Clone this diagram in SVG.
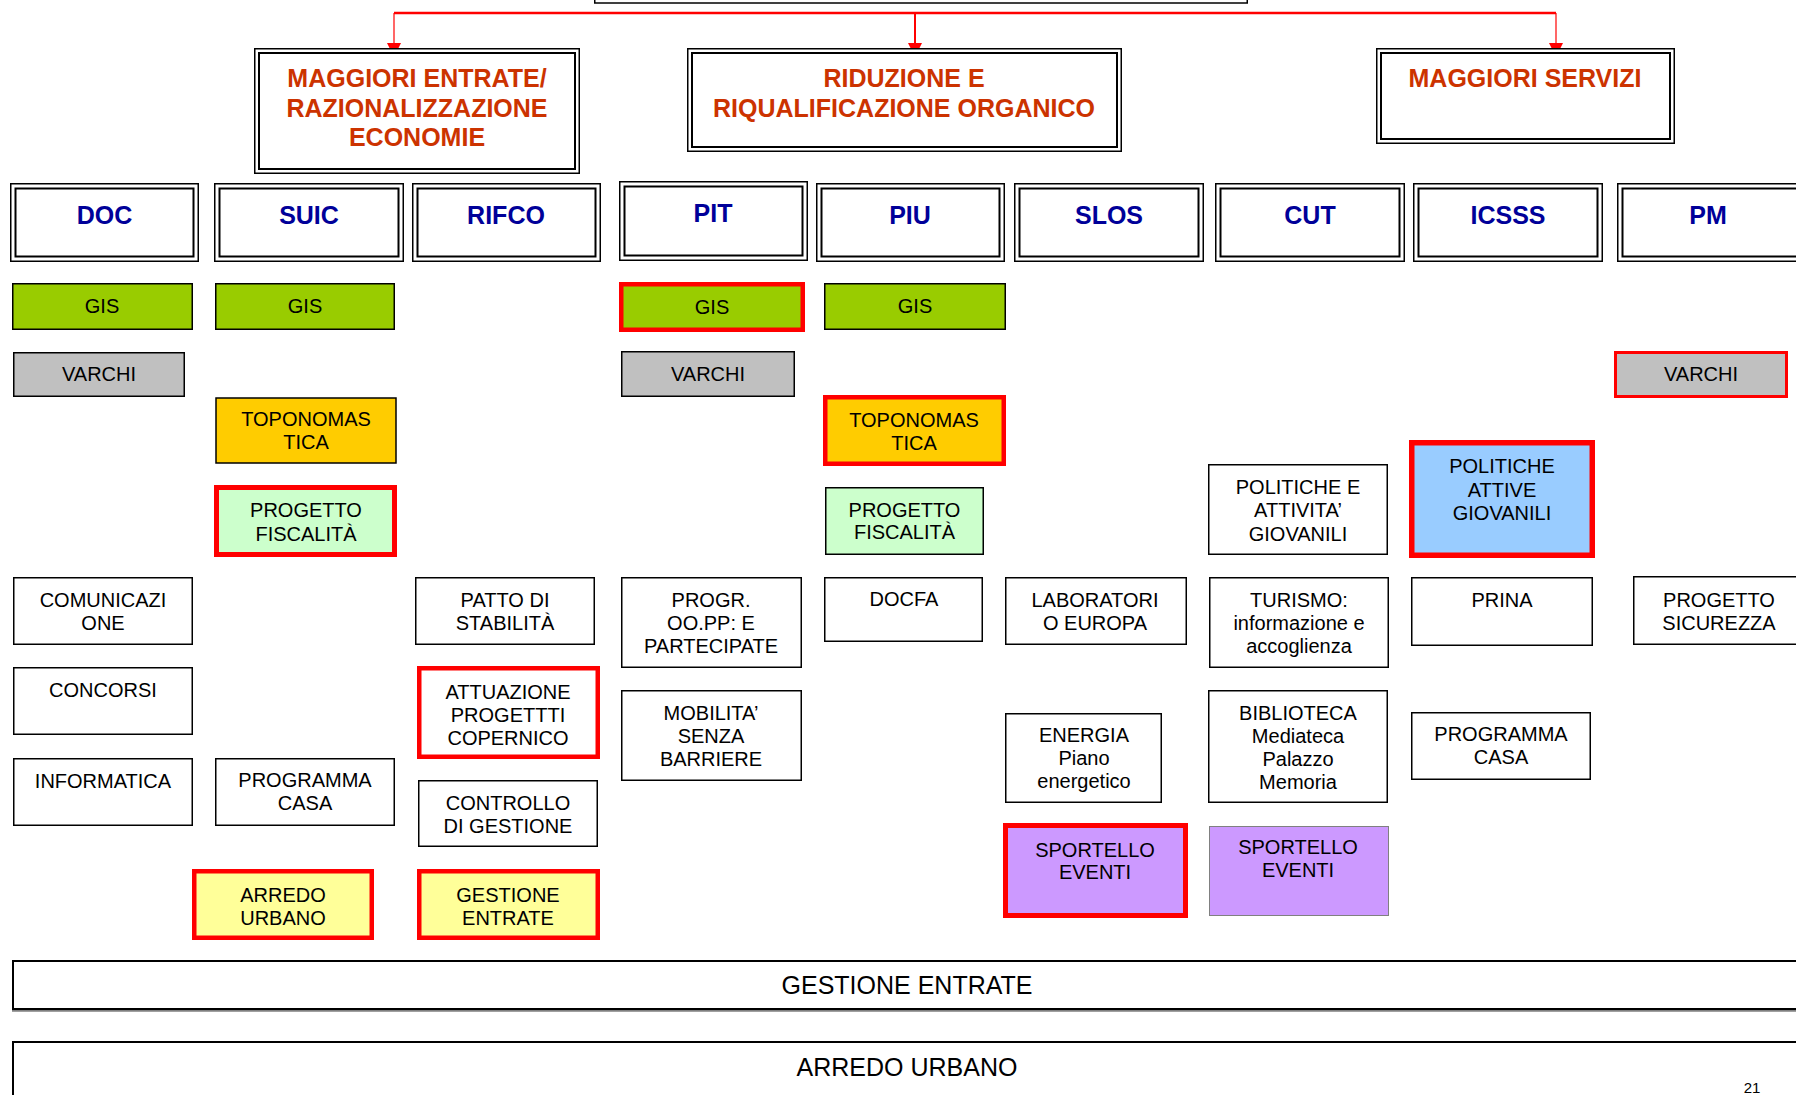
<svg xmlns="http://www.w3.org/2000/svg" width="1796" height="1095" viewBox="0 0 1796 1095">
<style>
text{font-family:"Liberation Sans",Arial,sans-serif;text-anchor:middle}
.t{font-size:20px;fill:#000}
.h1{font-size:25px;font-weight:bold;fill:#CC3300}
.h2{font-size:25px;font-weight:bold;fill:#000099}
.bar{font-size:25px;fill:#000}
.o{fill:#fff;stroke:#000;stroke-width:1.5}
.i{fill:none;stroke:#000;stroke-width:2}
.b{stroke:#000;stroke-width:1.5}
.r{stroke:#FF0000}
.w{fill:#fff}
.gis{fill:#99CC00}
.gr{fill:#C0C0C0}
.or{fill:#FFCC00}
.lg{fill:#CCFFCC}
.ye{fill:#FFFF99}
.bl{fill:#99CCFF}
.pu{fill:#CC99FF}
.conn{fill:none;stroke:#FF0000}
</style>
<defs>
<marker id="ah" markerUnits="userSpaceOnUse" markerWidth="14" markerHeight="14" refX="14" refY="7" orient="auto">
<path d="M0,0 L14,7 L0,14 z" fill="#FF0000"/>
</marker>
</defs>
<rect width="1796" height="1095" fill="#fff"/>

<g id="top">
<rect class="o" x="594.75" y="-60" width="652.5" height="63"/>
<rect class="i" x="599" y="-60" width="644" height="59"/>
</g>

<g id="connectors">
<path class="conn" stroke-width="2.5" d="M394 13 H1556"/>
<path class="conn" stroke-width="1.2" d="M394 13 V57" marker-end="url(#ah)"/>
<path class="conn" stroke-width="2" d="M915 13 V57" marker-end="url(#ah)"/>
<path class="conn" stroke-width="1.2" d="M1556 13 V57" marker-end="url(#ah)"/>
</g>

<g id="l1-entrate">
<rect class="o" x="254.75" y="48.75" width="324.5" height="124.5"/>
<rect class="i" x="259" y="53" width="316" height="116"/>
<text class="h1" x="417" y="87">MAGGIORI ENTRATE/</text>
<text class="h1" x="417" y="117">RAZIONALIZZAZIONE</text>
<text class="h1" x="417" y="146">ECONOMIE</text>
</g>
<g id="l1-riduzione">
<rect class="o" x="687.75" y="48.75" width="433.5" height="102.5"/>
<rect class="i" x="692" y="53" width="425" height="94"/>
<text class="h1" x="904" y="87">RIDUZIONE E</text>
<text class="h1" x="904" y="117">RIQUALIFICAZIONE ORGANICO</text>
</g>
<g id="l1-servizi">
<rect class="o" x="1376.75" y="48.75" width="297.5" height="94.5"/>
<rect class="i" x="1381" y="53" width="289" height="86"/>
<text class="h1" x="1525" y="87">MAGGIORI SERVIZI</text>
</g>

<g id="doc">
<rect class="o" x="10.75" y="183.75" width="187.5" height="77.5"/>
<rect class="i" x="15.5" y="188.5" width="178" height="68"/>
<text class="h2" x="104.5" y="224">DOC</text>
</g>
<g id="suic">
<rect class="o" x="214.75" y="183.75" width="188.5" height="77.5"/>
<rect class="i" x="219.5" y="188.5" width="179" height="68"/>
<text class="h2" x="309" y="224">SUIC</text>
</g>
<g id="rifco">
<rect class="o" x="412.75" y="183.75" width="187.5" height="77.5"/>
<rect class="i" x="417.5" y="188.5" width="178" height="68"/>
<text class="h2" x="506" y="224">RIFCO</text>
</g>
<g id="pit">
<rect class="o" x="619.75" y="181.75" width="187.5" height="78.5"/>
<rect class="i" x="624.5" y="186.5" width="178" height="69"/>
<text class="h2" x="713" y="222">PIT</text>
</g>
<g id="piu">
<rect class="o" x="816.75" y="183.75" width="187.5" height="77.5"/>
<rect class="i" x="821.5" y="188.5" width="178" height="68"/>
<text class="h2" x="910" y="224">PIU</text>
</g>
<g id="slos">
<rect class="o" x="1014.75" y="183.75" width="188.5" height="77.5"/>
<rect class="i" x="1019.5" y="188.5" width="179" height="68"/>
<text class="h2" x="1109" y="224">SLOS</text>
</g>
<g id="cut">
<rect class="o" x="1215.75" y="183.75" width="188.5" height="77.5"/>
<rect class="i" x="1220.5" y="188.5" width="179" height="68"/>
<text class="h2" x="1310" y="224">CUT</text>
</g>
<g id="icsss">
<rect class="o" x="1413.75" y="183.75" width="188.5" height="77.5"/>
<rect class="i" x="1418.5" y="188.5" width="179" height="68"/>
<text class="h2" x="1508" y="224">ICSSS</text>
</g>
<g id="pm">
<rect class="o" x="1617.75" y="183.75" width="198.5" height="77.5"/>
<rect class="i" x="1622.5" y="188.5" width="189" height="68"/>
<text class="h2" x="1708" y="224">PM</text>
</g>

<g id="doc-gis"><rect class="gis b" x="12.75" y="283.75" width="179.5" height="45.5"/><text class="t" x="102" y="313">GIS</text></g>
<g id="suic-gis"><rect class="gis b" x="215.75" y="283.75" width="178.5" height="45.5"/><text class="t" x="305" y="313">GIS</text></g>
<g id="pit-gis"><rect class="gis r" stroke-width="4.5" x="621.25" y="284.25" width="181.5" height="45.5"/><text class="t" x="712" y="314">GIS</text></g>
<g id="piu-gis"><rect class="gis b" x="824.75" y="283.75" width="180.5" height="45.5"/><text class="t" x="915" y="313">GIS</text></g>

<g id="doc-varchi"><rect class="gr b" stroke-width="3.5" x="13.75" y="352.75" width="170.5" height="43.5"/><text class="t" x="99" y="381">VARCHI</text></g>
<g id="pit-varchi"><rect class="gr b" x="621.75" y="351.75" width="172.5" height="44.5"/><text class="t" x="708" y="381">VARCHI</text></g>
<g id="pm-varchi"><rect class="gr r" stroke-width="3" x="1615.5" y="352.5" width="171" height="44"/><text class="t" x="1701" y="381">VARCHI</text></g>

<g id="suic-topo"><rect class="or b" stroke-width="2" x="216" y="398" width="180" height="65"/><text class="t" x="306" y="426">TOPONOMAS</text><text class="t" x="306" y="449">TICA</text></g>
<g id="piu-topo"><rect class="or r" stroke-width="4.5" x="825.25" y="397.25" width="178.5" height="66.5"/><text class="t" x="914" y="427">TOPONOMAS</text><text class="t" x="914" y="450">TICA</text></g>

<g id="suic-fisc"><rect class="lg r" stroke-width="5" x="216.5" y="487.5" width="178" height="67"/><text class="t" x="306" y="517">PROGETTO</text><text class="t" x="306" y="541">FISCALITÀ</text></g>
<g id="piu-fisc"><rect class="lg b" x="825.75" y="487.75" width="157.5" height="66.5"/><text class="t" x="904.5" y="517">PROGETTO</text><text class="t" x="904.5" y="539">FISCALITÀ</text></g>

<g id="cut-politiche"><rect class="w b" x="1208.75" y="464.75" width="178.5" height="89.5"/><text class="t" x="1298" y="494">POLITICHE E</text><text class="t" x="1298" y="517">ATTIVITA’</text><text class="t" x="1298" y="541">GIOVANILI</text></g>
<g id="icsss-politiche"><rect class="bl r" stroke-width="5.5" x="1411.75" y="442.75" width="180.5" height="112.5"/><text class="t" x="1502" y="473">POLITICHE</text><text class="t" x="1502" y="497">ATTIVE</text><text class="t" x="1502" y="520">GIOVANILI</text></g>

<g id="doc-comunicazione"><rect class="w b" x="13.75" y="577.75" width="178.5" height="66.5"/><text class="t" x="103" y="607">COMUNICAZI</text><text class="t" x="103" y="630">ONE</text></g>
<g id="rifco-patto"><rect class="w b" x="415.75" y="577.75" width="178.5" height="66.5"/><text class="t" x="505" y="607">PATTO DI</text><text class="t" x="505" y="630">STABILITÀ</text></g>
<g id="pit-progr"><rect class="w b" x="621.75" y="577.75" width="179.5" height="89.5"/><text class="t" x="711" y="607">PROGR.</text><text class="t" x="711" y="630">OO.PP: E</text><text class="t" x="711" y="653">PARTECIPATE</text></g>
<g id="piu-docfa"><rect class="w b" x="824.75" y="577.75" width="157.5" height="63.5"/><text class="t" x="904" y="606">DOCFA</text></g>
<g id="slos-lab"><rect class="w b" x="1005.75" y="577.75" width="180.5" height="66.5"/><text class="t" x="1095" y="607">LABORATORI</text><text class="t" x="1095" y="630">O EUROPA</text></g>
<g id="cut-turismo"><rect class="w b" x="1209.75" y="577.75" width="178.5" height="89.5"/><text class="t" x="1299" y="607">TURISMO:</text><text class="t" x="1299" y="630">informazione e</text><text class="t" x="1299" y="653">accoglienza</text></g>
<g id="icsss-prina"><rect class="w b" x="1411.75" y="577.75" width="180.5" height="67.5"/><text class="t" x="1502" y="607">PRINA</text></g>
<g id="pm-sicurezza"><rect class="w b" x="1633.75" y="576.75" width="170" height="67.5"/><text class="t" x="1719" y="607">PROGETTO</text><text class="t" x="1719" y="630">SICUREZZA</text></g>

<g id="doc-concorsi"><rect class="w b" x="13.75" y="667.75" width="178.5" height="66.5"/><text class="t" x="103" y="697">CONCORSI</text></g>
<g id="rifco-copernico"><rect class="w r" stroke-width="4.5" x="419.25" y="668.25" width="178.5" height="88.5"/><text class="t" x="508" y="699">ATTUAZIONE</text><text class="t" x="508" y="722">PROGETTTI</text><text class="t" x="508" y="745">COPERNICO</text></g>
<g id="pit-mobilita"><rect class="w b" x="621.75" y="690.75" width="179.5" height="89.5"/><text class="t" x="711" y="720">MOBILITA’</text><text class="t" x="711" y="743">SENZA</text><text class="t" x="711" y="766">BARRIERE</text></g>
<g id="slos-energia"><rect class="w b" x="1005.75" y="713.75" width="155.5" height="88.5"/><text class="t" x="1084" y="742">ENERGIA</text><text class="t" x="1084" y="765">Piano</text><text class="t" x="1084" y="788">energetico</text></g>
<g id="cut-biblioteca"><rect class="w b" x="1208.75" y="690.75" width="178.5" height="111.5"/><text class="t" x="1298" y="720">BIBLIOTECA</text><text class="t" x="1298" y="743">Mediateca</text><text class="t" x="1298" y="766">Palazzo</text><text class="t" x="1298" y="789">Memoria</text></g>
<g id="icsss-casa"><rect class="w b" x="1411.75" y="712.75" width="178.5" height="66.5"/><text class="t" x="1501" y="741">PROGRAMMA</text><text class="t" x="1501" y="764">CASA</text></g>

<g id="doc-informatica"><rect class="w b" x="13.75" y="758.75" width="178.5" height="66.5"/><text class="t" x="103" y="788">INFORMATICA</text></g>
<g id="suic-casa"><rect class="w b" x="215.75" y="758.75" width="178.5" height="66.5"/><text class="t" x="305" y="787">PROGRAMMA</text><text class="t" x="305" y="810">CASA</text></g>
<g id="rifco-controllo"><rect class="w b" x="418.75" y="780.75" width="178.5" height="65.5"/><text class="t" x="508" y="810">CONTROLLO</text><text class="t" x="508" y="833">DI GESTIONE</text></g>

<g id="suic-arredo"><rect class="ye r" stroke-width="4.5" x="194.25" y="871.25" width="177.5" height="66.5"/><text class="t" x="283" y="902">ARREDO</text><text class="t" x="283" y="925">URBANO</text></g>
<g id="rifco-gestione"><rect class="ye r" stroke-width="4.5" x="419.25" y="871.25" width="178.5" height="66.5"/><text class="t" x="508" y="902">GESTIONE</text><text class="t" x="508" y="925">ENTRATE</text></g>
<g id="slos-sportello"><rect class="pu r" stroke-width="5" x="1005.5" y="825.5" width="180" height="90"/><text class="t" x="1095" y="857">SPORTELLO</text><text class="t" x="1095" y="879">EVENTI</text></g>
<g id="cut-sportello"><rect class="pu" stroke="#808080" stroke-width="1" x="1209.5" y="826.5" width="179" height="89"/><text class="t" x="1298" y="854">SPORTELLO</text><text class="t" x="1298" y="877">EVENTI</text></g>

<g id="bar-gestione">
<line x1="12" y1="1010.5" x2="1800" y2="1010.5" stroke="#808080" stroke-width="2.5"/>
<rect class="w" stroke="#000" stroke-width="2" x="13" y="961" width="1790" height="48"/>
<text class="bar" x="907" y="994">GESTIONE ENTRATE</text>
</g>
<g id="bar-arredo">
<rect class="w" stroke="#000" stroke-width="2" x="13" y="1042" width="1790" height="80"/>
<text class="bar" x="907" y="1076">ARREDO URBANO</text>
</g>
<text x="1752" y="1093" style="font-size:15px;fill:#000">21</text>
</svg>
